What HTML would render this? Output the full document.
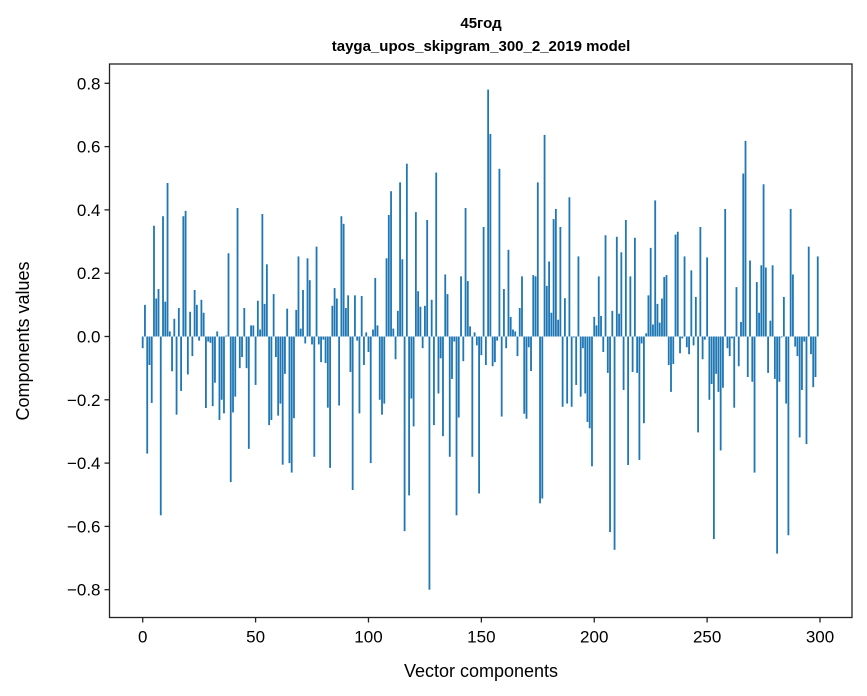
<!DOCTYPE html>
<html><head><meta charset="utf-8"><style>
html,body{margin:0;padding:0;background:#fff;}
svg{display:block;font-family:"Liberation Sans","DejaVu Sans",sans-serif;}
</style></head><body>
<svg id="chart" width="867" height="696" viewBox="0 0 867 696" xmlns="http://www.w3.org/2000/svg">
<text x="481" y="28" text-anchor="middle" font-size="15" font-weight="bold">45год</text>
<text x="481" y="51" text-anchor="middle" font-size="15" font-weight="bold">tayga_upos_skipgram_300_2_2019 model</text>
<g id="bars"></g>
<g id="axes"></g>
<text x="481" y="677" text-anchor="middle" font-size="18">Vector components</text>
<text transform="translate(29,341) rotate(-90)" text-anchor="middle" font-size="18">Components values</text>
</svg>
<script>
const values = [
-0.037,0.10,-0.37,-0.09,-0.21,0.35,0.12,0.15,-0.565,0.38,
0.11,0.485,0.016,-0.11,0.056,-0.247,0.09,-0.172,0.38,0.397,
-0.12,0.078,-0.062,0.147,0.10,-0.013,0.116,0.075,-0.226,-0.016,
-0.02,-0.22,-0.146,0.016,-0.264,-0.2,-0.243,0.003,0.263,-0.46,
-0.24,-0.19,0.406,-0.1,-0.065,0.09,-0.10,-0.355,0.035,0.035,
-0.153,0.113,0.022,0.387,0.103,0.228,-0.28,-0.264,0.134,-0.065,
-0.25,-0.212,-0.405,-0.118,0.088,-0.40,-0.43,-0.258,0.084,0.253,
0.025,0.147,-0.022,0.247,0.178,-0.025,-0.38,0.284,-0.025,-0.081,
-0.01,-0.084,-0.225,-0.415,0.097,0.153,0.12,-0.218,0.38,0.356,
0.09,0.13,-0.112,-0.485,0.13,-0.013,-0.243,0.128,-0.09,0.013,
-0.049,-0.40,0.022,0.185,0.035,-0.2,-0.247,-0.212,0.247,0.384,
0.459,0.025,-0.072,0.081,0.487,0.244,-0.615,0.546,-0.502,-0.196,
-0.284,0.393,0.143,0.094,-0.037,0.097,0.368,-0.80,0.116,-0.28,
0.518,-0.18,-0.069,-0.315,0.196,0.134,-0.38,-0.134,-0.016,-0.565,
-0.256,0.19,-0.078,0.406,0.175,0.032,-0.38,0.013,-0.028,-0.496,
-0.059,0.346,-0.09,0.78,0.64,-0.094,-0.081,-0.013,0.53,-0.253,
0.15,-0.037,0.274,0.062,0.022,0.016,-0.062,0.09,0.19,-0.244,
-0.26,-0.034,-0.109,0.194,0.19,0.487,-0.527,-0.512,0.637,0.16,
0.237,0.075,0.371,0.403,0.053,0.346,-0.222,0.121,-0.212,0.44,
-0.222,-0.003,-0.153,0.253,-0.19,-0.037,-0.18,-0.27,-0.29,-0.41,
0.062,0.035,0.19,0.065,-0.049,0.32,-0.115,-0.618,0.081,-0.674,
0.315,0.072,0.266,-0.169,0.368,-0.406,0.19,-0.112,0.312,-0.115,
-0.39,-0.022,-0.274,0.01,0.13,0.28,0.038,0.43,0.103,0.044,
0.12,0.188,0.194,-0.09,-0.175,-0.087,0.322,0.331,-0.053,-0.006,
0.253,-0.034,-0.056,0.209,-0.028,0.125,-0.303,0.346,-0.072,-0.01,
0.25,-0.2,-0.15,-0.64,-0.118,-0.175,-0.36,-0.162,0.403,-0.037,
-0.062,-0.006,-0.225,0.156,-0.094,0.046,0.515,0.618,-0.128,0.24,
-0.143,-0.43,0.172,0.075,0.225,0.481,0.218,-0.115,0.05,0.225,
-0.134,-0.686,-0.143,-0.003,0.125,-0.212,-0.628,0.403,0.196,-0.032,
-0.062,-0.319,-0.169,-0.016,-0.34,0.284,-0.056,-0.16,-0.128,0.253
];
const xTicks = [0,50,100,150,200,250,300];
const yTicks = [0.8,0.6,0.4,0.2,0.0,-0.2,-0.4,-0.6,-0.8];
const yTickLabels = ["0.8","0.6","0.4","0.2","0.0","\u22120.2","\u22120.4","\u22120.6","\u22120.8"];

const NS = "http://www.w3.org/2000/svg";
const L = 109.5, R = 852, T = 64, B = 617.5;
const xScale = v => 142.7 + v * 2.2577;
const yScale = v => 336.5 - v * 316.5;
const bw = 0.8 * 2.2577;

const barsG = document.getElementById('bars');
values.forEach((v, i) => {
  const r = document.createElementNS(NS, 'rect');
  const y0 = yScale(0), y1 = yScale(v);
  r.setAttribute('x', xScale(i) - bw / 2);
  r.setAttribute('y', Math.min(y0, y1));
  r.setAttribute('width', bw);
  r.setAttribute('height', Math.max(Math.abs(y1 - y0), 0.3));
  r.setAttribute('fill', '#1f77b4');
  
  
  barsG.appendChild(r);
});

const axG = document.getElementById('axes');
const frame = document.createElementNS(NS, 'rect');
frame.setAttribute('x', L); frame.setAttribute('y', T);
frame.setAttribute('width', R - L); frame.setAttribute('height', B - T);
frame.setAttribute('fill', 'none'); frame.setAttribute('stroke', '#222'); frame.setAttribute('stroke-width', '1.3');


axG.appendChild(frame);

xTicks.forEach(t => {
  const x = xScale(t);
  const ln = document.createElementNS(NS, 'line');
  ln.setAttribute('x1', x); ln.setAttribute('x2', x);
  ln.setAttribute('y1', B); ln.setAttribute('y2', B + 5);
  ln.setAttribute('stroke', '#222'); ln.setAttribute('stroke-width', '1.3');
  
  
  axG.appendChild(ln);
  const tx = document.createElementNS(NS, 'text');
  tx.setAttribute('x', x); tx.setAttribute('y', B + 25);
  tx.setAttribute('text-anchor', 'middle'); tx.setAttribute('font-size', '17');
  tx.textContent = t;
  
  
  axG.appendChild(tx);
});

yTicks.forEach((t, k) => {
  const y = yScale(t);
  const ln = document.createElementNS(NS, 'line');
  ln.setAttribute('x1', L - 5); ln.setAttribute('x2', L);
  ln.setAttribute('y1', y); ln.setAttribute('y2', y);
  ln.setAttribute('stroke', '#222'); ln.setAttribute('stroke-width', '1.3');
  
  
  axG.appendChild(ln);
  const tx = document.createElementNS(NS, 'text');
  tx.setAttribute('x', L - 9); tx.setAttribute('y', y + 6);
  tx.setAttribute('text-anchor', 'end'); tx.setAttribute('font-size', '17');
  tx.textContent = yTickLabels[k];
  
  
  axG.appendChild(tx);
});
</script>
</body></html>
